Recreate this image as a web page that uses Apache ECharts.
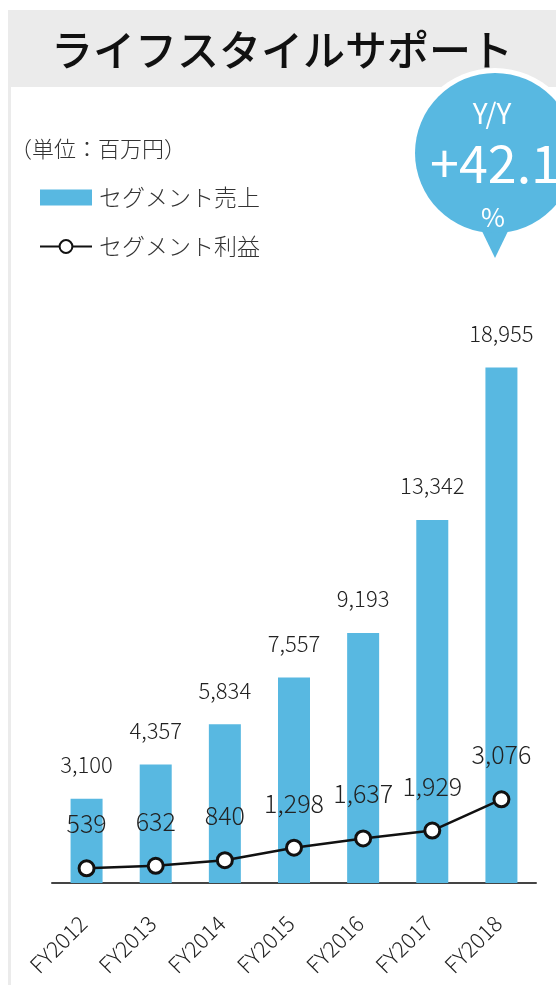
<!DOCTYPE html>
<html>
<head>
<meta charset="utf-8">
<script src="https://cdn.jsdelivr.net/npm/echarts@6/dist/echarts.min.js"></script>
<style>
  html, body { margin: 0; padding: 0; background: #fff; }
  #chart { width: 556px; height: 985px; }
</style>
</head>
<body>
<div id="chart"></div>
<script>
// ライフスタイルサポート segment: sales (bars) and profit (line), million yen
const categories = ['FY2012', 'FY2013', 'FY2014', 'FY2015', 'FY2016', 'FY2017', 'FY2018'];
const segmentSales = [3100, 4357, 5834, 7557, 9193, 13342, 18955];
const segmentProfit = [539, 632, 840, 1298, 1637, 1929, 3076];
const seriesNames = ['セグメント売上', 'セグメント利益'];
const titleText = 'ライフスタイルサポート';
const unitText = '（単位：百万円）';
const yoyLines = ['Y/Y', '+42.1', '%'];

const FONT = '"Noto Sans CJK JP", "Noto Sans", sans-serif';
const BLUE = '#58b8e1';
const fmt = v => Number(v).toLocaleString('en-US');

const chart = echarts.init(document.getElementById('chart'));

chart.setOption({
  animation: false,
  backgroundColor: '#ffffff',
  textStyle: { fontFamily: FONT, fontWeight: 300 },
  grid: { left: 52, right: 20, top: 339, bottom: 102, containLabel: false },
  legend: {
    data: [
      { name: seriesNames[0], icon: 'rect' },
      { name: seriesNames[1] }
    ],
    orient: 'vertical',
    left: 39,
    top: 186,
    padding: 0,
    itemWidth: 52,
    itemHeight: 16,
    itemGap: 26,
    textStyle: { fontFamily: FONT, fontWeight: 300, fontSize: 23, color: '#333', padding: [0, 0, 0, 2] }
  },
  xAxis: {
    type: 'category',
    data: categories,
    axisLine: { show: true, lineStyle: { color: '#444', width: 2 } },
    axisTick: { show: false },
    axisLabel: {
      interval: 0,
      rotate: 45,
      margin: 33,
      padding: [0, 5, 0, 0],
      fontFamily: FONT,
      fontWeight: 300,
      fontSize: 22,
      color: '#222'
    }
  },
  yAxis: {
    type: 'value',
    min: 0,
    max: 20000,
    show: false,
    splitLine: { show: false }
  },
  series: [
    {
      name: seriesNames[0],
      type: 'bar',
      data: segmentSales,
      barWidth: 32,
      itemStyle: { color: BLUE },
      label: {
        show: true,
        position: 'top',
        distance: 23,
        fontFamily: FONT,
        fontWeight: 300,
        fontSize: 22,
        color: '#222',
        formatter: p => fmt(p.value)
      }
    },
    {
      name: seriesNames[1],
      type: 'line',
      data: segmentProfit,
      symbol: 'circle',
      symbolSize: 15,
      itemStyle: { color: '#ffffff', borderColor: '#111', borderWidth: 3 },
      lineStyle: { color: '#111', width: 2.5 },
      label: {
        show: true,
        position: 'top',
        distance: 23,
        fontFamily: FONT,
        fontWeight: 300,
        fontSize: 25,
        color: '#222',
        formatter: p => fmt(p.value)
      },
      z: 3
    }
  ],
  graphic: [
    // frame: grey border strip and header band
    { type: 'rect', z: -10, silent: true,
      shape: { x: 8, y: 10, width: 560, height: 990 },
      style: { fill: '#ebebeb' } },
    { type: 'rect', z: -9, silent: true,
      shape: { x: 11, y: 87, width: 560, height: 910 },
      style: { fill: '#ffffff' } },
    { type: 'text', z: 5, silent: true,
      style: { x: 282, y: 50, text: titleText, fill: '#111',
        font: '500 42px ' + FONT, align: 'center', verticalAlign: 'middle' } },
    { type: 'text', z: 5, silent: true,
      style: { x: 10, y: 149, text: unitText, fill: '#333',
        font: '300 22px ' + FONT, align: 'left', verticalAlign: 'middle' } },
    // Y/Y speech bubble
    { type: 'circle', z: 6, silent: true,
      shape: { cx: 495, cy: 153, r: 85 },
      style: { fill: '#ffffff' } },
    { type: 'polygon', z: 7, silent: true,
      shape: { points: [[479, 225], [511, 225], [495, 258]] },
      style: { fill: BLUE } },
    { type: 'circle', z: 7, silent: true,
      shape: { cx: 495, cy: 153, r: 80 },
      style: { fill: BLUE } },
    { type: 'text', z: 8, silent: true,
      style: { x: 492, y: 113, text: yoyLines[0], fill: '#fff',
        font: '28px ' + FONT, align: 'center', verticalAlign: 'middle' } },
    { type: 'text', z: 8, silent: true,
      style: { x: 495, y: 163, text: yoyLines[1], fill: '#fff',
        font: '52px ' + FONT, align: 'center', verticalAlign: 'middle' } },
    { type: 'text', z: 8, silent: true,
      style: { x: 493, y: 217, text: yoyLines[2], fill: '#fff',
        font: '26px ' + FONT, align: 'center', verticalAlign: 'middle' } }
  ]
});
</script>
</body>
</html>
